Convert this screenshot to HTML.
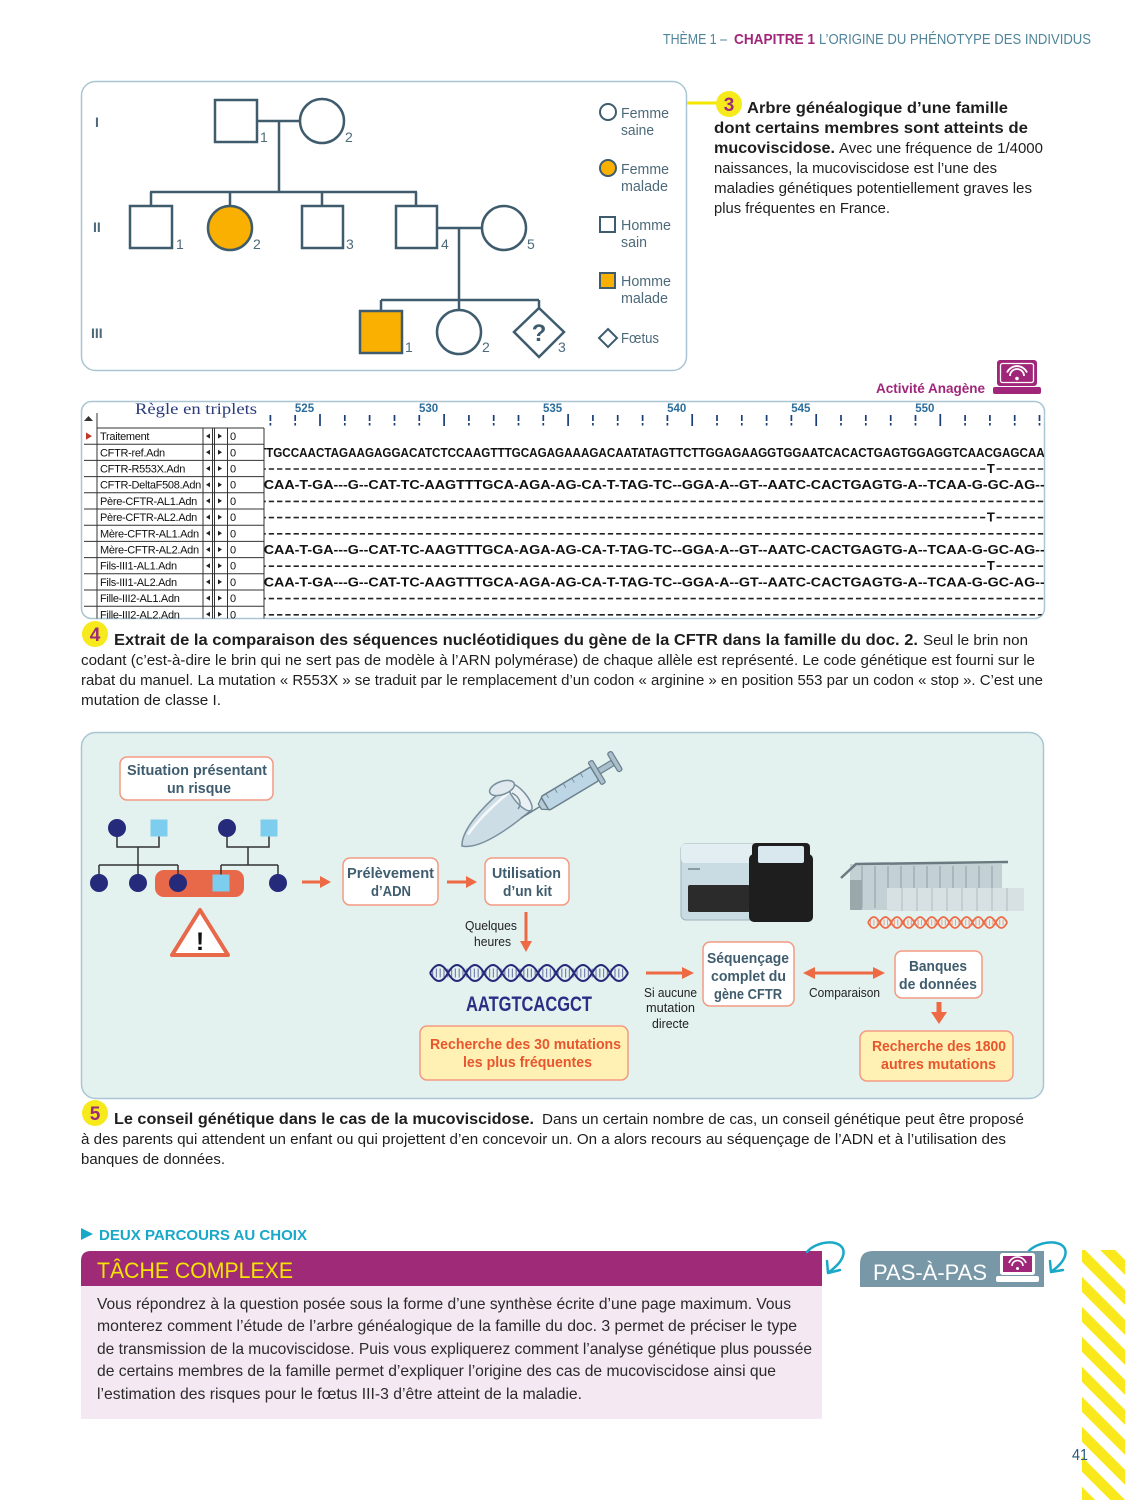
<!DOCTYPE html>
<html><head><meta charset="utf-8">
<style>
html,body{margin:0;padding:0;background:#fff;}
svg{display:block;}
text{font-family:"Liberation Sans",sans-serif;}
.n{font-family:"Liberation Sans Narrow","Liberation Sans",sans-serif;}
.m{font-family:"Liberation Mono",monospace;font-weight:bold;}
.s{font-family:"Liberation Serif",serif;}
.b{font-weight:bold;}
</style></head><body>
<svg width="1125" height="1500" viewBox="0 0 1125 1500" xmlns="http://www.w3.org/2000/svg">
<defs>
<clipPath id="seqclip"><rect x="264.5" y="428" width="779.5" height="190.5"/></clipPath>
<clipPath id="boxclip"><rect x="82" y="402" width="962" height="216.5" rx="10"/></clipPath>
<clipPath id="namecol"><rect x="97" y="428" width="106" height="191"/></clipPath>
<pattern id="st" width="21.2" height="21.2" patternUnits="userSpaceOnUse" patternTransform="rotate(-45)">
<rect x="0" y="0" width="10.6" height="21.2" fill="#f8e81c"/>
</pattern>
</defs>
<rect width="1125" height="1500" fill="#fff"/>

<!-- Header -->
<text x="663" y="44" font-size="15" fill="#4f8499" textLength="64" lengthAdjust="spacingAndGlyphs">THÈME 1 –</text>
<text x="734" y="44" font-size="15" class="b" fill="#a0267a" textLength="81" lengthAdjust="spacingAndGlyphs">CHAPITRE 1</text>
<text x="819" y="44" font-size="15" fill="#4f8499" textLength="272" lengthAdjust="spacingAndGlyphs">L’ORIGINE DU PHÉNOTYPE DES INDIVIDUS</text>

<!-- Pedigree box -->
<rect x="81.5" y="81.5" width="605" height="289" rx="14" fill="#fff" stroke="#a9c6d2" stroke-width="1.5"/>
<g class="n b" font-size="14" fill="#4d6a7a">
<text x="95" y="127">I</text>
<text x="93" y="232">II</text>
<text x="91" y="338">III</text>
</g>
<g stroke="#3e5c6e" stroke-width="2.5" fill="none">
<rect x="215" y="100" width="42" height="42"/>
<circle cx="322" cy="121" r="22"/>
<line x1="257" y1="121" x2="300" y2="121"/>
<line x1="279" y1="121" x2="279" y2="192"/>
<line x1="150" y1="192" x2="417" y2="192"/>
<line x1="151" y1="192" x2="151" y2="206"/>
<line x1="230" y1="192" x2="230" y2="206"/>
<line x1="322" y1="192" x2="322" y2="206"/>
<line x1="416" y1="192" x2="416" y2="206"/>
<rect x="130" y="206" width="42" height="42"/>
<circle cx="230" cy="228" r="22" fill="#f9b000"/>
<rect x="302" y="206" width="41" height="42"/>
<rect x="396" y="206" width="41" height="42"/>
<circle cx="504" cy="228" r="22"/>
<line x1="437" y1="228" x2="482" y2="228"/>
<line x1="459" y1="228" x2="459" y2="300"/>
<line x1="381" y1="300" x2="539" y2="300"/>
<line x1="381" y1="300" x2="381" y2="311"/>
<line x1="459" y1="300" x2="459" y2="310"/>
<line x1="539" y1="300" x2="539" y2="308"/>
<rect x="360" y="311" width="42" height="42" fill="#f9b000"/>
<circle cx="459" cy="332" r="22"/>
<polygon points="539,308 564,332 539,357 514,332" stroke-linejoin="miter"/>
</g>
<text x="539" y="341" text-anchor="middle" font-size="24" class="b" fill="#3e5c6e">?</text>
<g class="n" font-size="14" fill="#4d6a7a">
<text x="260" y="142">1</text>
<text x="345" y="142">2</text>
<text x="176" y="249">1</text>
<text x="253" y="249">2</text>
<text x="346" y="249">3</text>
<text x="441" y="249">4</text>
<text x="527" y="249">5</text>
<text x="405" y="352">1</text>
<text x="482" y="352">2</text>
<text x="558" y="352">3</text>
</g>
<!-- legend -->
<g stroke="#3e5c6e" stroke-width="2" fill="none">
<circle cx="608" cy="112" r="8"/>
<circle cx="608" cy="168" r="8" fill="#f9b000"/>
<rect x="600" y="217" width="15" height="15"/>
<rect x="600" y="273" width="15" height="15" fill="#f9b000"/>
<polygon points="608,329 617,338 608,347 599,338"/>
</g>
<g class="n" font-size="15" fill="#4d6a7a">
<text x="621" y="118" textLength="48" lengthAdjust="spacingAndGlyphs">Femme</text>
<text x="621" y="135" textLength="33" lengthAdjust="spacingAndGlyphs">saine</text>
<text x="621" y="174" textLength="48" lengthAdjust="spacingAndGlyphs">Femme</text>
<text x="621" y="191" textLength="47" lengthAdjust="spacingAndGlyphs">malade</text>
<text x="621" y="230" textLength="50" lengthAdjust="spacingAndGlyphs">Homme</text>
<text x="621" y="247" textLength="26" lengthAdjust="spacingAndGlyphs">sain</text>
<text x="621" y="286" textLength="50" lengthAdjust="spacingAndGlyphs">Homme</text>
<text x="621" y="303" textLength="47" lengthAdjust="spacingAndGlyphs">malade</text>
<text x="621" y="343" textLength="38" lengthAdjust="spacingAndGlyphs">Fœtus</text>
</g>

<!-- Caption 3 -->
<line x1="687" y1="103" x2="720" y2="103" stroke="#f5e600" stroke-width="3"/>
<circle cx="729" cy="104" r="13" fill="#f7ea1c"/>
<text x="729" y="111" text-anchor="middle" font-size="19" class="b" fill="#9e2a78">3</text>
<g fill="#1e1e1e">
<text x="747" y="113" font-size="16" class="b" textLength="261" lengthAdjust="spacingAndGlyphs">Arbre généalogique d’une famille</text>
<text x="714" y="133" font-size="16" class="b" textLength="314" lengthAdjust="spacingAndGlyphs">dont certains membres sont atteints de</text>
<text x="714" y="153" font-size="16" class="b" textLength="121" lengthAdjust="spacingAndGlyphs">mucoviscidose.</text>
<text x="839" y="153" font-size="15" textLength="204" lengthAdjust="spacingAndGlyphs">Avec une fréquence de 1/4000</text>
<text x="714" y="173" font-size="15" textLength="283" lengthAdjust="spacingAndGlyphs">naissances, la mucoviscidose est l’une des</text>
<text x="714" y="193" font-size="15" textLength="318" lengthAdjust="spacingAndGlyphs">maladies génétiques potentiellement graves les</text>
<text x="714" y="213" font-size="15" textLength="176" lengthAdjust="spacingAndGlyphs">plus fréquentes en France.</text>
</g>

<!-- Activité Anagène -->
<text x="876" y="393" font-size="13.5" class="b" fill="#a0267a" textLength="109" lengthAdjust="spacingAndGlyphs">Activité Anagène</text>
<rect x="997" y="360" width="40" height="26" rx="3" fill="#a0267a"/>
<rect x="1000.5" y="363.5" width="33" height="19" rx="2" fill="none" stroke="#fff" stroke-width="1.3"/>
<path d="M1010,376 A7,7 0 0 1 1024,376 M1007,372.5 A11,11 0 0 1 1027,372.5" stroke="#fff" stroke-width="1.8" fill="none"/>
<circle cx="1017" cy="378.5" r="1.8" fill="#fff"/>
<rect x="993" y="387" width="48" height="7" rx="2" fill="#a0267a"/>

<!-- Sequence box -->
<rect x="81.5" y="401.5" width="963" height="217" rx="10" fill="#fff" stroke="#a9c6d2" stroke-width="1.5"/>
<g clip-path="url(#boxclip)">
<text x="135" y="414" class="s" font-size="16" fill="#2a3a7a" textLength="122" lengthAdjust="spacingAndGlyphs">Règle en triplets</text>
<polygon points="84,421 88.5,416 93,421" fill="#333"/>
<g class="b" font-size="11.5" fill="#2c6d9c" text-anchor="middle">
<text x="304.5" y="412">525</text>
<text x="428.6" y="412">530</text>
<text x="552.6" y="412">535</text>
<text x="676.7" y="412">540</text>
<text x="800.8" y="412">545</text>
<text x="924.8" y="412">550</text>
</g>
<path stroke="#1b3d78" stroke-width="1.7" fill="none" d="
M270.4,415V421M270.4,423V425.5
M295.2,415V421M295.2,423V425.5
M320.0,414V426
M344.8,415V421M344.8,423V425.5
M369.6,415V421M369.6,423V425.5
M394.5,415V421M394.5,423V425.5
M419.3,415V421M419.3,423V425.5
M444.1,414V426
M468.9,415V421M468.9,423V425.5
M493.7,415V421M493.7,423V425.5
M518.5,415V421M518.5,423V425.5
M543.3,415V421M543.3,423V425.5
M568.1,414V426
M592.9,415V421M592.9,423V425.5
M617.7,415V421M617.7,423V425.5
M642.6,415V421M642.6,423V425.5
M667.4,415V421M667.4,423V425.5
M692.2,414V426
M717.0,415V421M717.0,423V425.5
M741.8,415V421M741.8,423V425.5
M766.6,415V421M766.6,423V425.5
M791.4,415V421M791.4,423V425.5
M816.2,414V426
M841.0,415V421M841.0,423V425.5
M865.8,415V421M865.8,423V425.5
M890.7,415V421M890.7,423V425.5
M915.5,415V421M915.5,423V425.5
M940.3,414V426
M965.1,415V421M965.1,423V425.5
M989.9,415V421M989.9,423V425.5
M1014.7,415V421M1014.7,423V425.5
M1039.5,415V421M1039.5,423V425.5"/>

<!-- table grid -->
<g stroke="#333" stroke-width="1" fill="none">
<path d="M97,413V619 M203,428V619 M212.5,428V619 M214.5,428V619 M227.5,428V619 M264,428V619"/>
<path d="M97,428H264 M84,444.2H264 M84,460.4H264 M84,476.6H264 M84,492.8H264 M84,509H264 M84,525.2H264 M84,541.4H264 M84,557.6H264 M84,573.8H264 M84,590H264 M84,606.2H264"/>
</g>
<polygon points="86,432.5 92,436.1 86,439.7" fill="#c0392b"/>
<g fill="#222">
<path d="M210,433.6L206,436.1L210,438.6Z M210,449.8L206,452.3L210,454.8Z M210,466L206,468.5L210,471Z M210,482.2L206,484.7L210,487.2Z M210,498.4L206,500.9L210,503.4Z M210,514.6L206,517.1L210,519.6Z M210,530.8L206,533.3L210,535.8Z M210,547L206,549.5L210,552Z M210,563.2L206,565.7L210,568.2Z M210,579.4L206,581.9L210,584.4Z M210,595.6L206,598.1L210,600.6Z M210,611.8L206,614.3L210,616.8Z"/>
<path d="M218,433.6L222,436.1L218,438.6Z M218,449.8L222,452.3L218,454.8Z M218,466L222,468.5L218,471Z M218,482.2L222,484.7L218,487.2Z M218,498.4L222,500.9L218,503.4Z M218,514.6L222,517.1L218,519.6Z M218,530.8L222,533.3L218,535.8Z M218,547L222,549.5L218,552Z M218,563.2L222,565.7L218,568.2Z M218,579.4L222,581.9L218,584.4Z M218,595.6L222,598.1L218,600.6Z M218,611.8L222,614.3L218,616.8Z"/>
</g>
<g font-size="11" fill="#111">
<text x="230" y="440.1">0</text><text x="230" y="456.3">0</text><text x="230" y="472.5">0</text>
<text x="230" y="488.7">0</text><text x="230" y="504.9">0</text><text x="230" y="521.1">0</text>
<text x="230" y="537.3">0</text><text x="230" y="553.5">0</text><text x="230" y="569.7">0</text>
<text x="230" y="585.9">0</text><text x="230" y="602.1">0</text><text x="230" y="618.3">0</text>
</g>
<g font-size="11" fill="#111" clip-path="url(#namecol)" letter-spacing="-0.3">
<text x="100" y="440.1">Traitement</text>
<text x="100" y="456.3">CFTR-ref.Adn</text>
<text x="100" y="472.5">CFTR-R553X.Adn</text>
<text x="100" y="488.7">CFTR-DeltaF508.Adn</text>
<text x="100" y="504.9">Père-CFTR-AL1.Adn</text>
<text x="100" y="521.1">Père-CFTR-AL2.Adn</text>
<text x="100" y="537.3">Mère-CFTR-AL1.Adn</text>
<text x="100" y="553.5">Mère-CFTR-AL2.Adn</text>
<text x="100" y="569.7">Fils-III1-AL1.Adn</text>
<text x="100" y="585.9">Fils-III1-AL2.Adn</text>
<text x="100" y="602.1">Fille-III2-AL1.Adn</text>
<text x="100" y="618.3">Fille-III2-AL2.Adn</text>
</g>
<g clip-path="url(#seqclip)">
<!-- dash rows -->
<g stroke="#222" stroke-width="1.6" stroke-dasharray="5.3 2.97" fill="none">
<line x1="260.5" y1="469" x2="1046" y2="469"/>
<line x1="260.5" y1="501.4" x2="1046" y2="501.4"/>
<line x1="260.5" y1="517.6" x2="1046" y2="517.6"/>
<line x1="260.5" y1="533.8" x2="1046" y2="533.8"/>
<line x1="260.5" y1="566.2" x2="1046" y2="566.2"/>
<line x1="260.5" y1="598.6" x2="1046" y2="598.6"/>
<line x1="260.5" y1="614.8" x2="1046" y2="614.8"/>
</g>
<g fill="#fff">
<rect x="986.8" y="462" width="8.27" height="12"/>
<rect x="986.8" y="510.6" width="8.27" height="12"/>
<rect x="986.8" y="559.2" width="8.27" height="12"/>
</g>
<g class="m" font-size="13" fill="#111" text-anchor="middle">
<text x="990.9" y="473">T</text>
<text x="990.9" y="521.6">T</text>
<text x="990.9" y="570.2">T</text>
</g>
<g class="m" font-size="13" fill="#111">
<text x="259" y="456.8" textLength="785.7" lengthAdjust="spacingAndGlyphs">TTGCCAACTAGAAGAGGACATCTCCAAGTTTGCAGAGAAAGACAATATAGTTCTTGGAGAAGGTGGAATCACACTGAGTGGAGGTCAACGAGCAA</text>
<text x="259" y="489.2" textLength="785.7" lengthAdjust="spacingAndGlyphs">:CAA-T-GA---G--CAT-TC-AAGTTTGCA-AGA-AG-CA-T-TAG-TC--GGA-A--GT--AATC-CACTGAGTG-A--TCAA-G-GC-AG--</text>
<text x="259" y="554" textLength="785.7" lengthAdjust="spacingAndGlyphs">:CAA-T-GA---G--CAT-TC-AAGTTTGCA-AGA-AG-CA-T-TAG-TC--GGA-A--GT--AATC-CACTGAGTG-A--TCAA-G-GC-AG--</text>
<text x="259" y="586.4" textLength="785.7" lengthAdjust="spacingAndGlyphs">:CAA-T-GA---G--CAT-TC-AAGTTTGCA-AGA-AG-CA-T-TAG-TC--GGA-A--GT--AATC-CACTGAGTG-A--TCAA-G-GC-AG--</text>
</g>
</g>
</g>

<!-- Caption 4 -->
<circle cx="95" cy="634" r="13" fill="#f7ea1c"/>
<text x="95" y="641" text-anchor="middle" font-size="19" class="b" fill="#9e2a78">4</text>
<g fill="#1e1e1e">
<text x="114" y="645" font-size="16" class="b" textLength="804" lengthAdjust="spacingAndGlyphs">Extrait de la comparaison des séquences nucléotidiques du gène de la CFTR dans la famille du doc. 2.</text>
<text x="923" y="645" font-size="15" textLength="105" lengthAdjust="spacingAndGlyphs">Seul le brin non</text>
<text x="81" y="665" font-size="15" textLength="954" lengthAdjust="spacingAndGlyphs">codant (c’est-à-dire le brin qui ne sert pas de modèle à l’ARN polymérase) de chaque allèle est représenté. Le code génétique est fourni sur le</text>
<text x="81" y="685" font-size="15" textLength="962" lengthAdjust="spacingAndGlyphs">rabat du manuel. La mutation « R553X » se traduit par le remplacement d’un codon « arginine » en position 553 par un codon « stop ». C’est une</text>
<text x="81" y="705" font-size="15" textLength="140" lengthAdjust="spacingAndGlyphs">mutation de classe I.</text>
</g>

<!-- Diagram 5 -->
<rect x="81.5" y="732.5" width="962" height="366" rx="14" fill="#e3f1ef" stroke="#a9c6d2" stroke-width="1.5"/>

<!-- mini pedigree -->
<rect x="155" y="870" width="89" height="27" rx="9" fill="#e8684a"/>
<g stroke="#333" stroke-width="1.5" fill="none">
<path d="M117,828V847H159V836 M138,847V865 M99,865H178 M99,865V875 M138,865V875 M178,865V875"/>
<path d="M227,828V847H269V836 M248,847V865 M221,865H278 M221,865V875 M278,865V875"/>
</g>
<g fill="#252a7a">
<circle cx="117" cy="828" r="9"/><circle cx="227" cy="828" r="9"/>
<circle cx="99" cy="883" r="9"/><circle cx="138" cy="883" r="9"/>
<circle cx="178" cy="883" r="9"/><circle cx="278" cy="883" r="9"/>
</g>
<g fill="#7ccdee">
<rect x="150.5" y="819.5" width="17" height="17"/>
<rect x="260.5" y="819.5" width="17" height="17"/>
<rect x="212.5" y="874.5" width="17" height="17"/>
</g>
<polygon points="200,910 172,955 228,955" fill="#fff" stroke="#e8684a" stroke-width="4" stroke-linejoin="round"/>
<text x="200" y="950" text-anchor="middle" font-size="25" class="b" fill="#111">!</text>

<!-- boxes -->
<g fill="#fff" stroke="#f39a82" stroke-width="1.5">
<rect x="120" y="757" width="153" height="43" rx="7"/>
<rect x="343" y="858" width="95" height="47" rx="7"/>
<rect x="485" y="858" width="84" height="47" rx="7"/>
<rect x="703" y="942" width="91" height="64" rx="7"/>
<rect x="895" y="951" width="87" height="47" rx="7"/>
</g>
<g fill="#fff0b3" stroke="#f39a82" stroke-width="1.5">
<rect x="420" y="1026" width="208" height="54" rx="7"/>
<rect x="860" y="1031" width="153" height="50" rx="7"/>
</g>
<g class="n b" font-size="15" fill="#3f5d6e">
<text x="127" y="775" textLength="140" lengthAdjust="spacingAndGlyphs">Situation présentant</text>
<text x="167" y="793" textLength="64" lengthAdjust="spacingAndGlyphs">un risque</text>
<text x="347" y="878" textLength="87" lengthAdjust="spacingAndGlyphs">Prélèvement</text>
<text x="371" y="896" textLength="40" lengthAdjust="spacingAndGlyphs">d’ADN</text>
<text x="492" y="878" textLength="69" lengthAdjust="spacingAndGlyphs">Utilisation</text>
<text x="503" y="896" textLength="49" lengthAdjust="spacingAndGlyphs">d’un kit</text>
<text x="707" y="963" textLength="82" lengthAdjust="spacingAndGlyphs">Séquençage</text>
<text x="711" y="981" textLength="75" lengthAdjust="spacingAndGlyphs">complet du</text>
<text x="714" y="999" textLength="68" lengthAdjust="spacingAndGlyphs">gène CFTR</text>
<text x="909" y="971" textLength="58" lengthAdjust="spacingAndGlyphs">Banques</text>
<text x="899" y="989" textLength="78" lengthAdjust="spacingAndGlyphs">de données</text>
</g>
<g class="n b" font-size="15" fill="#e8562e">
<text x="430" y="1049" textLength="191" lengthAdjust="spacingAndGlyphs">Recherche des 30 mutations</text>
<text x="463" y="1067" textLength="129" lengthAdjust="spacingAndGlyphs">les plus fréquentes</text>
<text x="872" y="1051" textLength="134" lengthAdjust="spacingAndGlyphs">Recherche des 1800</text>
<text x="881" y="1069" textLength="115" lengthAdjust="spacingAndGlyphs">autres mutations</text>
</g>
<g class="n" font-size="13" fill="#222">
<text x="465" y="930" textLength="52" lengthAdjust="spacingAndGlyphs">Quelques</text>
<text x="474" y="946" textLength="37" lengthAdjust="spacingAndGlyphs">heures</text>
<text x="644" y="997" textLength="53" lengthAdjust="spacingAndGlyphs">Si aucune</text>
<text x="646" y="1012" textLength="49" lengthAdjust="spacingAndGlyphs">mutation</text>
<text x="652" y="1028" textLength="37" lengthAdjust="spacingAndGlyphs">directe</text>
<text x="809" y="997" textLength="71" lengthAdjust="spacingAndGlyphs">Comparaison</text>
</g>
<text x="466" y="1011" class="n b" font-size="21" fill="#2a2f85" textLength="126" lengthAdjust="spacingAndGlyphs">AATGTCACGCT</text>

<!-- arrows -->
<g stroke="#ee6a45" stroke-width="3" fill="none">
<line x1="302" y1="882" x2="322" y2="882"/>
<line x1="447" y1="882" x2="468" y2="882"/>
<line x1="526" y1="912" x2="526" y2="943"/>
<line x1="646" y1="973" x2="684" y2="973"/>
<line x1="813" y1="973" x2="875" y2="973"/>
<line x1="939" y1="1002" x2="939" y2="1014" stroke-width="5"/>
</g>
<g fill="#ee6a45">
<polygon points="320,876 331,882 320,888"/>
<polygon points="466,876 477,882 466,888"/>
<polygon points="520,941 526,952 532,941"/>
<polygon points="682,967 694,973 682,979"/>
<polygon points="815,967 803,973 815,979"/>
<polygon points="873,967 885,973 873,979"/>
<polygon points="931,1012 939,1024 947,1012"/>
</g>

<!-- navy helix -->
<g fill="none" stroke="#252a7a" stroke-width="2">
<path d="M430,973 q9,-16 18,0 t18,0 t18,0 t18,0 t18,0 t18,0 t18,0 t18,0 t18,0 t18,0 t18,0"/>
<path d="M430,973 q9,16 18,0 t18,0 t18,0 t18,0 t18,0 t18,0 t18,0 t18,0 t18,0 t18,0 t18,0"/>
<line x1="432" y1="973" x2="626" y2="973" stroke-width="9" stroke-dasharray="1.2 2.6" opacity="0.55"/>
</g>
<!-- orange helix -->
<g fill="none" stroke="#ee6a45" stroke-width="1.8">
<path d="M868,922.5 q5.8,-11 11.6,0 t11.6,0 t11.6,0 t11.6,0 t11.6,0 t11.6,0 t11.6,0 t11.6,0 t11.6,0 t11.6,0 t11.6,0 t11.6,0"/>
<path d="M868,922.5 q5.8,11 11.6,0 t11.6,0 t11.6,0 t11.6,0 t11.6,0 t11.6,0 t11.6,0 t11.6,0 t11.6,0 t11.6,0 t11.6,0 t11.6,0"/>
<line x1="870" y1="922.5" x2="1005" y2="922.5" stroke-width="6" stroke-dasharray="1 2.4" opacity="0.6"/>
</g>

<!-- tube and syringe -->
<g transform="translate(462,846) rotate(-40)">
<path d="M0,0 C7,-9 26,-17 76,-17 L76,17 C26,17 7,9 0,0 Z" fill="#cddde6" stroke="#7a8f9c" stroke-width="1.5"/>
<ellipse cx="76" cy="0" rx="6" ry="17" fill="#e9f1f4" stroke="#7a8f9c" stroke-width="1.5"/>
<path d="M12,-5 C30,-10 50,-11 70,-11" stroke="#fff" stroke-width="2.5" fill="none" opacity="0.8"/>
</g>
<ellipse cx="502" cy="788" rx="13" ry="6.5" fill="#dfe9ee" stroke="#7a8f9c" stroke-width="1.5" transform="rotate(-20 502 788)"/>
<path d="M512,793 C520,797 522,804 518,809" stroke="#7a8f9c" stroke-width="1.5" fill="none"/>
<g transform="translate(521,818) rotate(-31)">
<line x1="0" y1="0" x2="22" y2="0" stroke="#6a7f8c" stroke-width="1.5"/>
<path d="M22,-3 L28,-7 L28,7 L22,3 Z" fill="#b8ccd8" stroke="#6a7f8c" stroke-width="1.2"/>
<rect x="28" y="-8" width="58" height="16" rx="2" fill="#bcd6e6" stroke="#6a7f8c" stroke-width="1.5"/>
<rect x="86" y="-13" width="5" height="26" rx="1.5" fill="#a9c0cc" stroke="#6a7f8c" stroke-width="1.2"/>
<rect x="91" y="-3" width="16" height="6" fill="#a9c0cc" stroke="#6a7f8c" stroke-width="1.2"/>
<rect x="107" y="-11" width="5" height="22" rx="2" fill="#a9c0cc" stroke="#6a7f8c" stroke-width="1.2"/>
<path d="M34,-8 V-3 M44,-8 V-3 M54,-8 V-3 M64,-8 V-3 M74,-8 V-3" stroke="#6a7f8c" stroke-width="0.8"/>
</g>

<!-- sequencer -->
<rect x="681" y="844" width="92" height="76" rx="5" fill="#c9dce4" stroke="#9fb3bb" stroke-width="1"/>
<rect x="681" y="844" width="92" height="19" rx="4" fill="#e3eef2"/>
<rect x="688" y="868" width="12" height="2" fill="#8a9aa0"/>
<rect x="688" y="885" width="62" height="27" rx="2" fill="#2b2b2b"/>
<rect x="749" y="854" width="64" height="68" rx="5" fill="#1e1e1e"/>
<rect x="752" y="843" width="58" height="24" rx="4" fill="#1e1e1e"/>
<rect x="758" y="846" width="46" height="17" rx="2" fill="#d9e8ee"/>

<!-- data center -->
<rect x="850" y="864" width="152" height="46" fill="#c3d0d4"/>
<path d="M862,866V908 M875,866V908 M888,866V908 M901,866V908 M914,866V908 M927,866V908 M940,866V908 M953,866V908 M966,866V908 M979,866V908 M992,866V908" stroke="#98a8ae" stroke-width="1.2"/>
<rect x="850" y="880" width="12" height="30" fill="#9aa8ac"/>
<rect x="887" y="888" width="137" height="23" fill="#d7e0e2"/>
<path d="M902,888V911 M917,888V911 M932,888V911 M947,888V911 M962,888V911 M977,888V911 M992,888V911 M1007,888V911" stroke="#b4c2c6" stroke-width="1.2"/>
<path d="M841,878 L856,864 L1008,862" stroke="#6a7a80" stroke-width="2.5" fill="none"/>

<!-- Caption 5 -->
<circle cx="95" cy="1113" r="13" fill="#f7ea1c"/>
<text x="95" y="1120" text-anchor="middle" font-size="19" class="b" fill="#9e2a78">5</text>
<g fill="#1e1e1e">
<text x="114" y="1124" font-size="16" class="b" textLength="420" lengthAdjust="spacingAndGlyphs">Le conseil génétique dans le cas de la mucoviscidose.</text>
<text x="542" y="1124" font-size="15" textLength="482" lengthAdjust="spacingAndGlyphs">Dans un certain nombre de cas, un conseil génétique peut être proposé</text>
<text x="81" y="1144" font-size="15" textLength="925" lengthAdjust="spacingAndGlyphs">à des parents qui attendent un enfant ou qui projettent d’en concevoir un. On a alors recours au séquençage de l’ADN et à l’utilisation des</text>
<text x="81" y="1164" font-size="15" textLength="144" lengthAdjust="spacingAndGlyphs">banques de données.</text>
</g>

<!-- Deux parcours -->
<polygon points="81,1228 93,1234 81,1240" fill="#1aa8c8"/>
<text x="99" y="1240" font-size="15" class="b" fill="#1aa8c8" textLength="208" lengthAdjust="spacingAndGlyphs">DEUX PARCOURS AU CHOIX</text>

<!-- Tâche complexe -->
<path d="M81,1286 V1261 Q81,1251 91,1251 H822 V1286 Z" fill="#9e2a78"/>
<text x="97" y="1278" font-size="22" fill="#f5e400" textLength="196" lengthAdjust="spacingAndGlyphs">TÂCHE COMPLEXE</text>
<rect x="81" y="1286" width="741" height="133" fill="#f4e8f2"/>
<g font-size="16" fill="#2a2a2a">
<text x="97" y="1309" textLength="694" lengthAdjust="spacingAndGlyphs">Vous répondrez à la question posée sous la forme d’une synthèse écrite d’une page maximum. Vous</text>
<text x="97" y="1331" textLength="700" lengthAdjust="spacingAndGlyphs">monterez comment l’étude de l’arbre généalogique de la famille du doc. 3 permet de préciser le type</text>
<text x="97" y="1354" textLength="715" lengthAdjust="spacingAndGlyphs">de transmission de la mucoviscidose. Puis vous expliquerez comment l’analyse génétique plus poussée</text>
<text x="97" y="1376" textLength="679" lengthAdjust="spacingAndGlyphs">de certains membres de la famille permet d’expliquer l’origine des cas de mucoviscidose ainsi que</text>
<text x="97" y="1399" textLength="485" lengthAdjust="spacingAndGlyphs">l’estimation des risques pour le fœtus III-3 d’être atteint de la maladie.</text>
</g>

<!-- curly arrows -->
<g stroke="#1aa8c8" stroke-width="2.5" fill="none" stroke-linecap="round" stroke-linejoin="round">
<path d="M807,1252 C815,1242 838,1238 843,1249 C846,1258 836,1267 829,1272"/>
<path d="M827,1261 L828,1273 L840,1270"/>
<path d="M1028,1252 C1036,1242 1060,1238 1065,1249 C1068,1258 1058,1267 1052,1271"/>
<path d="M1050,1261 L1051,1272 L1063,1270"/>
</g>

<!-- PAS-À-PAS -->
<path d="M860,1287 V1264 Q860,1251 873,1251 H1044 V1287 Z" fill="#7898a8"/>
<text x="873" y="1280" font-size="22" fill="#fff" textLength="114" lengthAdjust="spacingAndGlyphs">PAS-À-PAS</text>
<rect x="1000" y="1253" width="35" height="22" rx="2.5" fill="#fff"/>
<rect x="1003" y="1256" width="29" height="16" fill="#a0267a"/>
<path d="M1012,1266 A5.5,5.5 0 0 1 1023,1266 M1009,1263 A9,9 0 0 1 1026,1263" stroke="#fff" stroke-width="1.6" fill="none"/>
<circle cx="1017.5" cy="1268.5" r="1.5" fill="#fff"/>
<rect x="996" y="1276" width="43" height="6" rx="2" fill="#fff"/>

<!-- stripes -->
<rect x="1082" y="1250" width="43" height="250" fill="url(#st)"/>

<!-- page number -->
<text x="1072" y="1460" font-size="16" fill="#2b5a7a" textLength="16" lengthAdjust="spacingAndGlyphs">41</text>
</svg>
</body></html>
